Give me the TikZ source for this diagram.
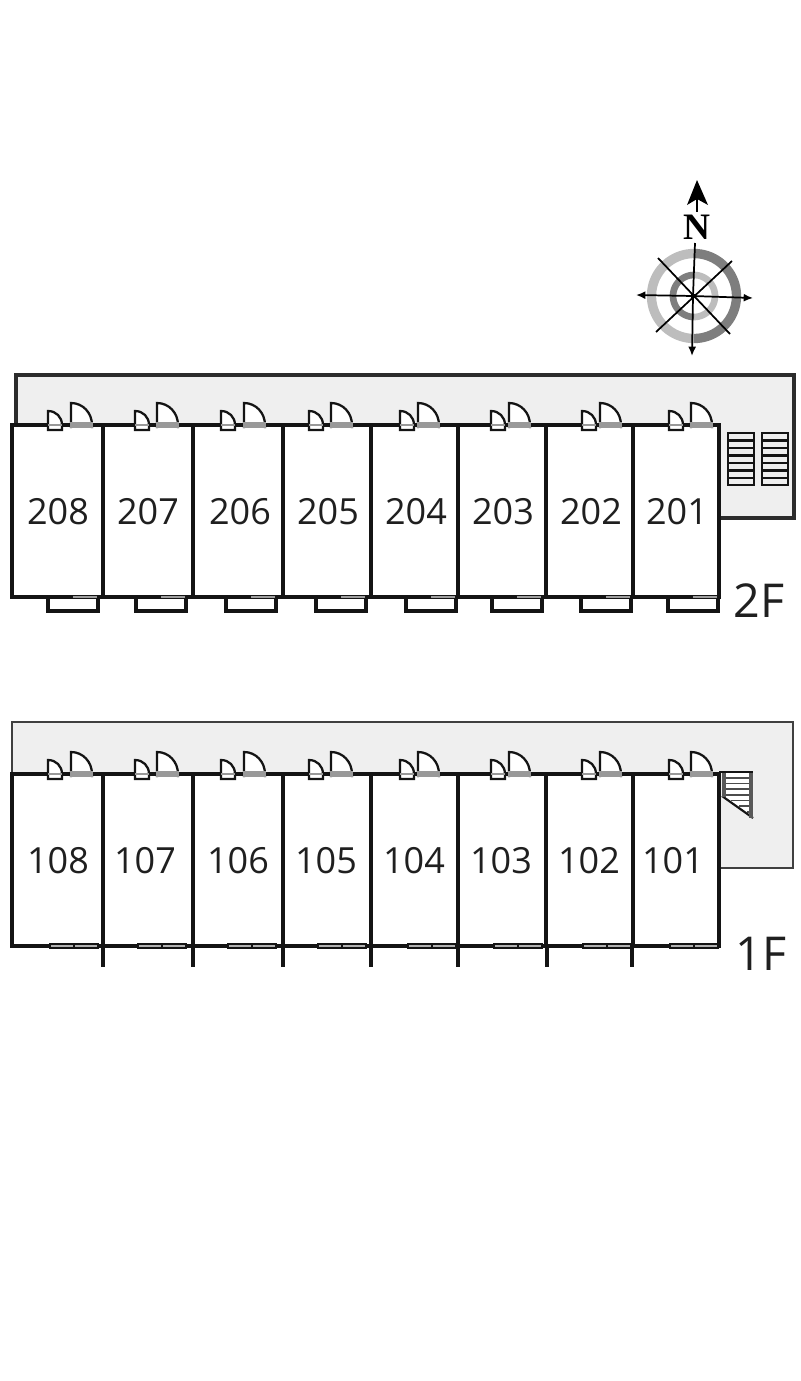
\documentclass[tikz,border=0pt]{standalone}
\usepackage{fontspec}
\setmainfont{Open Sans}
\newfontfamily\nfont{Liberation Serif}
\usetikzlibrary{arrows.meta}
\definecolor{corridor}{HTML}{EFEFEF}
\definecolor{ringdark}{HTML}{7E7E7E}
\definecolor{ringlight}{HTML}{BDBDBD}
\definecolor{wallc}{HTML}{141414}
\tikzset{
  x=0.75pt,y=-0.75pt,
  wall/.style={draw=wallc,line width=2.9pt,line cap=butt},
  thinwall/.style={draw=black!75,line width=1.3pt},
  corridorwall/.style={draw=wallc!90,line width=2.8pt},
  doorline/.style={draw=wallc,line width=1.7pt},
  doorbar/.style={fill=gray!80,draw=none},
  balc/.style={draw=wallc,line width=2.5pt},
  winbar/.style={fill=gray!60,draw=wallc,line width=1.3pt},
  room/.style={font=\fontsize{27}{27}\selectfont,text=black!88,inner sep=0pt},
  floorlabel/.style={font=\fontsize{35}{35}\selectfont,text=black!88,inner sep=0pt},
  stair/.style={draw=wallc,line width=1.7pt},
  compass/.style={draw=black,line width=1.3pt},
  pics/smalldoor/.style={code={
    \fill[white] (0,-14) .. controls (8,-14) and (14,-8) .. (14,0) -- (14,5) -- (0,5) -- cycle;
    \path[doorline] (0,5) -- (0,-14) .. controls (8,-14) and (14,-8) .. (14,0) -- (14,5) -- cycle;
    \path[doorbar] (0,-1) rectangle (14,1);
  }},
  pics/bigdoor/.style={code={
    \fill[white] (0,-22) .. controls (12,-22) and (21,-12) .. (21,0) -- (21,3) -- (0,3) -- cycle;
    \path[doorline] (0,3) -- (0,-22) .. controls (12,-22) and (21,-12) .. (21,0) -- (21,3);
    \path[doorbar] (-1,-3) rectangle (22,3);
  }},
}
\begin{document}
\begin{tikzpicture}
\useasboundingbox (0,0) rectangle (800,1381);
\fill[white] (0,0) rectangle (800,1381);

% --- corridors
\path[fill=corridor,corridorwall] (16,425) -- (16,375) -- (794,375) -- (794,518) -- (719,518) -- (719,425) -- cycle;
\path[fill=corridor,thinwall] (12,774) -- (12,722) -- (793,722) -- (793,868) -- (719,868) -- (719,774) -- cycle;

% --- 2F stairs
\foreach \sx in {728,762}{
  \path[stair] (\sx,433) rectangle ++(26,52);
  \foreach \k in {1,...,6}{ \draw[stair] (\sx,433+\k*7.5) -- ++(26,0); }
}
% --- 1F stair
\fill[white] (722,772) -- (753,772) -- (753,818) -- (722,796) -- cycle;
\foreach \k/\kw in {1/723,2/723,3/723,4/723,5/731,6/739,7/747}{
  \draw[draw=black!70,line width=1.2pt] (\kw,772+\k*5.7) -- (753,772+\k*5.7);
}
\draw[draw=wallc,line width=1.6pt] (722,796) -- (753,818);
\draw[draw=black!65,line width=3pt] (724,772) -- (724,797);
\draw[draw=black!65,line width=3pt] (751,771) -- (751,818);
\draw[draw=wallc,line width=1.8pt] (719,772) -- (753,772);

% --- balconies 2F
\foreach \bx in {48,136,226,316,406,492,581,668}{
  \path[balc,fill=white] (\bx,597) rectangle ++(50,14);
}

% --- room walls
\foreach \fy in {425,774}{
  \path[wall] (12,\fy) rectangle (719,\fy+172);
  \foreach \wx in {103,193,283,371,458,546,633}{
    \draw[wall] (\wx,\fy) -- (\wx,\fy+172);
  }
  \foreach \sd/\bd in {48/71,135/157,221/244,309/331,400/418,491/509,582/600,669/691}{
    \pic at (\sd,\fy) {smalldoor};
    \pic at (\bd,\fy) {bigdoor};
  }
}
% --- window bars on 2F
\foreach \bx in {48,136,226,316,406,492,581,668}{
  \path[fill=gray!75,draw=none] (\bx+25,595.5) rectangle ++(24,2.5);
}
% --- windows and stubs 1F
\foreach \bx in {48,136,226,316,406,492,581,668}{
  \path[winbar] (\bx+2,944) rectangle ++(24,4);
  \path[winbar] (\bx+26,944) rectangle ++(24,4);
}
\foreach \wx in {103,193,283,371,458,547,632}{
  \draw[draw=wallc,line width=2.4pt] (\wx,946) -- (\wx,967);
}

% --- room numbers
\foreach \n/\lx in {208/58,207/148,206/240,205/328,204/416,203/503,202/591,201/677}{
  \node[room] (r\n) at (\lx,511.5) {\n};
}
\foreach \n/\lx in {108/58,107/145,106/238,105/326,104/414,103/501,102/589,101/673}{
  \node[room] (r\n) at (\lx,861) {\n};
}
\node[floorlabel] (f2) at (759,600.5) {2F};
\node[floorlabel] (f1) at (761,953.5) {1F};

% --- compass
\coordinate (cc) at (693,296);
\begin{scope}[shift={(694,296)}]
  \draw[ringlight,line width=7pt] plot[smooth,samples=40,domain=-90:90] ({-42.5*cos(\x)},{42.5*sin(\x)});
  \draw[ringdark,line width=7pt] plot[smooth,samples=40,domain=-90:90] ({42.5*cos(\x)},{42.5*sin(\x)});
  \draw[ringlight,line width=5pt] plot[smooth,samples=30,domain=-90:90] ({21*cos(\x)},{21*sin(\x)});
  \draw[ringdark,line width=5pt] plot[smooth,samples=30,domain=-90:90] ({-21*cos(\x)},{21*sin(\x)});
\end{scope}
\coordinate (cn) at (695,243);
\coordinate (cs) at (692,356);
\coordinate (cw) at (636,295);
\coordinate (ce) at (753,298);
\draw[compass,-{Latex[length=7pt,width=6pt]}] (cc) -- (cs);
\draw[compass] (cc) -- (cn);
\draw[compass,-{Latex[length=7pt,width=6pt]}] (cc) -- (cw);
\draw[compass,-{Latex[length=7pt,width=6pt]}] (cc) -- (ce);
\draw[compass] (658,258) -- (730,334);
\draw[compass] (732,261) -- (656,332);
\fill[black] (cc) circle[radius=2.5];
% north arrow
\fill[black] (697,180) -- (708,205) -- (697,199) -- (687,205) -- cycle;
\draw[compass] (697,198) -- (697,212);
\node[inner sep=0pt,font=\nfont\bfseries\fontsize{28}{28}\selectfont] (north) at (697,227) {N};
\end{tikzpicture}
\end{document}
